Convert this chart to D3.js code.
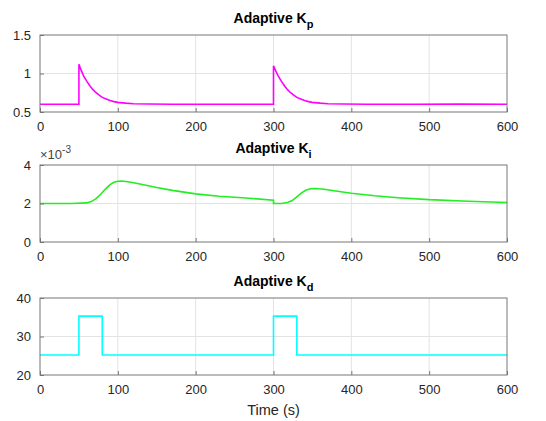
<!DOCTYPE html>
<html>
<head>
<meta charset="utf-8">
<script src="https://cdn.jsdelivr.net/npm/d3@7"></script>
<style>
body { margin: 0; background: #fff; }
svg { font-family: "Liberation Sans", Arial, sans-serif; }
.tick text { fill: #262626; font-size: 13px; }
</style>
</head>
<body>
<script>
// time samples (s) and values
var kpTime  = [0, 50, 50, 53, 56, 60, 64, 68, 72, 76, 80, 85, 90, 95, 100, 110, 120, 140, 170, 220, 260, 300,
               300, 303, 306, 310, 314, 318, 322, 326, 330, 335, 340, 345, 350, 360, 370, 390, 420, 480, 540, 600];
var kpValue = [0.6, 0.6, 1.12, 1.04, 0.97, 0.9, 0.84, 0.79, 0.75, 0.72, 0.69, 0.67, 0.65, 0.635, 0.625, 0.615, 0.608, 0.603, 0.6, 0.6, 0.6, 0.6,
               1.1, 1.03, 0.97, 0.9, 0.84, 0.79, 0.75, 0.72, 0.69, 0.67, 0.65, 0.635, 0.625, 0.615, 0.608, 0.603, 0.6, 0.6, 0.602, 0.6];

var kiTime  = [0, 40, 60, 66, 72, 78, 84, 90, 95, 100, 105, 115, 130, 150, 170, 200, 230, 260, 300,
               300, 310, 318, 324, 330, 336, 342, 348, 355, 365, 380, 400, 430, 460, 500, 550, 600];
var kiValue = [2.0, 2.0, 2.03, 2.1, 2.25, 2.48, 2.75, 2.98, 3.1, 3.16, 3.17, 3.12, 3.0, 2.83, 2.68, 2.5, 2.38, 2.3, 2.17,
               2.0, 2.0, 2.05, 2.15, 2.35, 2.55, 2.7, 2.77, 2.78, 2.74, 2.65, 2.53, 2.4, 2.3, 2.2, 2.12, 2.05];

var kdTime  = [0, 50, 50, 80, 80, 300, 300, 330, 330, 600];
var kdValue = [25.2, 25.2, 35.3, 35.3, 25.2, 25.2, 35.3, 35.3, 25.2, 25.2];

var xTicks = [0, 100, 200, 300, 400, 500, 600];

var panels = [
  {sub: "p", time: kpTime, value: kpValue, domain: [0.5, 1.5], ticks: [0.5, 1, 1.5], color: "#ff00ff", top: 35},
  {sub: "i", time: kiTime, value: kiValue, domain: [0, 4], ticks: [0, 2, 4], color: "#22ee22", top: 165, exp: true},
  {sub: "d", time: kdTime, value: kdValue, domain: [20, 40], ticks: [20, 30, 40], color: "#00ffff", top: 298}
];

var svg = d3.select("body").append("svg").attr("width", 546).attr("height", 421);
var left = 40, width = 467, height = 77;

var x = d3.scaleLinear().domain([0, 600]).range([0, width]);

panels.forEach(function (p) {
  var y = d3.scaleLinear().domain(p.domain).range([height, 0]);
  var g = svg.append("g").attr("transform", "translate(" + left + "," + p.top + ")");

  // grid
  g.selectAll(".gx").data(xTicks.slice(1, -1)).enter().append("line")
    .attr("x1", function (d) { return x(d); }).attr("x2", function (d) { return x(d); })
    .attr("y1", 0).attr("y2", height)
    .attr("stroke", "#e3e3e3").attr("stroke-width", 1);
  g.selectAll(".gy").data(p.ticks.slice(1, -1)).enter().append("line")
    .attr("x1", 0).attr("x2", width)
    .attr("y1", function (d) { return y(d); }).attr("y2", function (d) { return y(d); })
    .attr("stroke", "#e3e3e3").attr("stroke-width", 1);

  var line = d3.line()
    .x(function (d, i) { return x(p.time[i]); })
    .y(function (d) { return y(d); });
  g.append("path").datum(p.value)
    .attr("d", line)
    .attr("fill", "none")
    .attr("stroke", p.color)
    .attr("stroke-width", 1.6);

  // axes
  var xa = g.append("g").attr("transform", "translate(0," + height + ")")
    .call(d3.axisBottom(x).tickValues(xTicks).tickSizeInner(-4).tickSizeOuter(0).tickPadding(10));
  var ya = g.append("g")
    .call(d3.axisLeft(y).tickValues(p.ticks).tickSizeInner(-4).tickSizeOuter(0).tickPadding(9)
      .tickFormat(d3.format("")));
  [xa, ya].forEach(function (a) {
    a.select(".domain").remove();
    a.selectAll(".tick line").attr("stroke", "#777");
  });

  // box
  g.append("rect").attr("width", width).attr("height", height)
    .attr("fill", "none").attr("stroke", "#777").attr("stroke-width", 1);

  // title
  var t = svg.append("text")
    .attr("x", left + width / 2).attr("y", p.top - 12)
    .attr("text-anchor", "middle")
    .attr("font-weight", "bold").attr("font-size", 14).attr("fill", "#000");
  t.append("tspan").text("Adaptive K");
  t.append("tspan").attr("dy", 5).attr("font-size", 11).text(p.sub);

  if (p.exp) {
    var e = svg.append("text").attr("x", left).attr("y", p.top - 6)
      .attr("font-size", 13).attr("fill", "#444");
    e.append("tspan").text("\u00d710");
    e.append("tspan").attr("dy", -6).attr("font-size", 10).text("-3");
  }
});

svg.append("text")
  .attr("x", left + width / 2).attr("y", 415)
  .attr("text-anchor", "middle")
  .attr("font-size", 14.5).attr("fill", "#262626")
  .text("Time (s)");
</script>
</body>
</html>
